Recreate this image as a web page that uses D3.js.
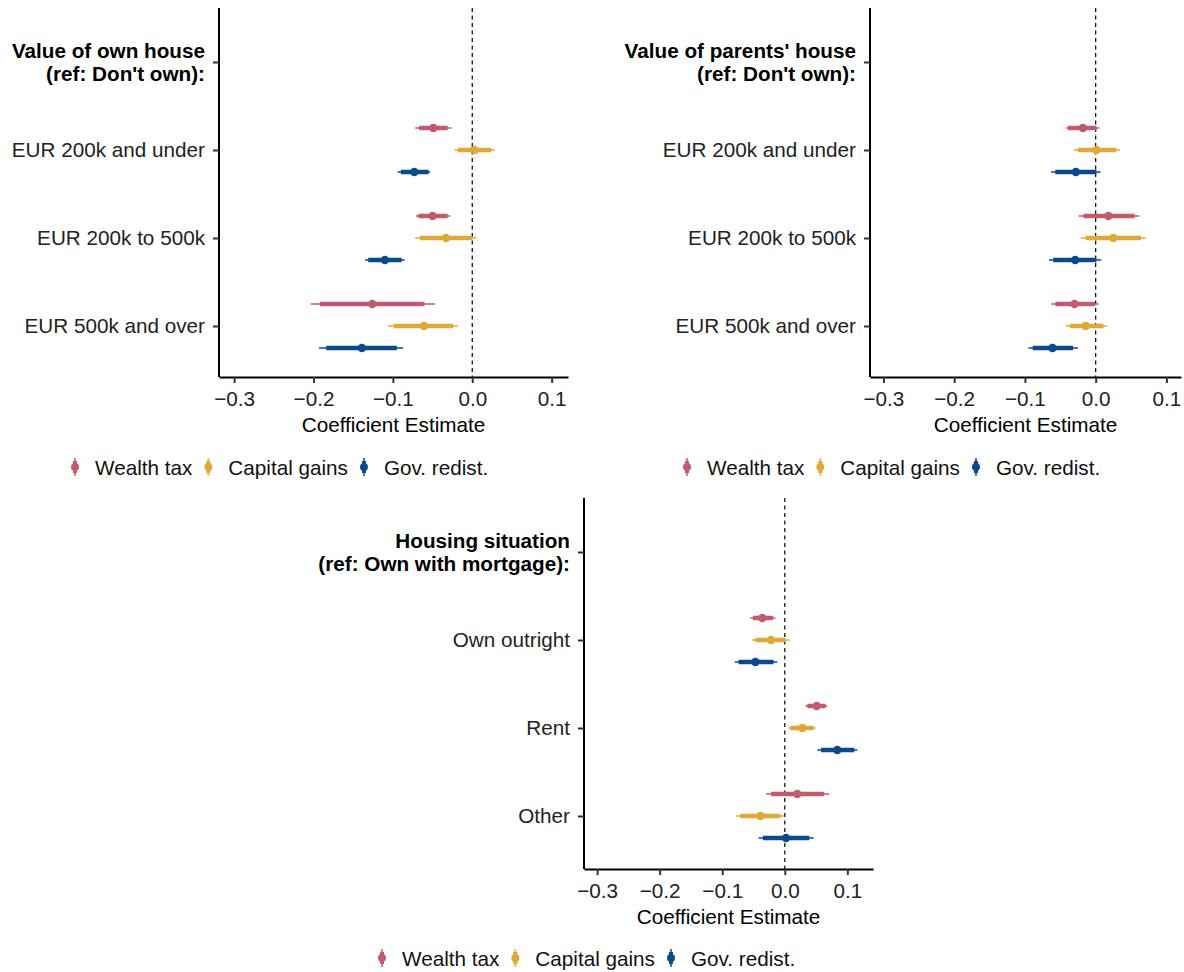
<!DOCTYPE html>
<html>
<head>
<meta charset="utf-8">
<script src="https://cdn.jsdelivr.net/npm/d3@7"></script>
<style>
  body { margin: 0; background: #fff; }
  text { font-family: "Liberation Sans", Arial, sans-serif; }
</style>
</head>
<body>
<svg id="chart" width="1184" height="972"></svg>
<script>
// series + colours
const seriesNames = ['Wealth tax', 'Capital gains', 'Gov. redist.'];
const seriesColors = ['#c25b6b', '#e1a933', '#0a4a8c'];
const xTicks = [-0.3, -0.2, -0.1, 0.0, 0.1];

// panel 1: value of own house
const ownHeader = ['Value of own house', '(ref: Don\'t own):'];
const ownCats = ['EUR 200k and under', 'EUR 200k to 500k', 'EUR 500k and over'];
const ownEst  = [[-0.049, -0.050, -0.126], [0.003, -0.033, -0.061], [-0.073, -0.110, -0.139]];
const ownLo95 = [[-0.072, -0.071, -0.204], [-0.022, -0.072, -0.106], [-0.094, -0.135, -0.193]];
const ownHi95 = [[-0.026, -0.028, -0.047], [0.028, 0.005, -0.018], [-0.053, -0.085, -0.087]];
const ownLo90 = [[-0.067, -0.068, -0.192], [-0.018, -0.066, -0.099], [-0.090, -0.131, -0.184]];
const ownHi90 = [[-0.031, -0.031, -0.060], [0.024, 0.000, -0.024], [-0.055, -0.089, -0.095]];

// panel 2: value of parents' house
const parHeader = ['Value of parents\' house', '(ref: Don\'t own):'];
const parCats = ['EUR 200k and under', 'EUR 200k to 500k', 'EUR 500k and over'];
const parEst  = [[-0.018, 0.018, -0.030], [0.001, 0.025, -0.014], [-0.028, -0.029, -0.061]];
const parLo95 = [[-0.042, -0.024, -0.063], [-0.031, -0.021, -0.042], [-0.063, -0.066, -0.095]];
const parHi95 = [[0.005, 0.062, 0.004], [0.034, 0.071, 0.016], [0.007, 0.008, -0.025]];
const parLo90 = [[-0.039, -0.017, -0.057], [-0.025, -0.014, -0.036], [-0.057, -0.060, -0.089]];
const parHi90 = [[0.001, 0.055, -0.001], [0.029, 0.064, 0.011], [0.001, 0.001, -0.032]];

// panel 3: housing situation
const houHeader = ['Housing situation', '(ref: Own with mortgage):'];
const houCats = ['Own outright', 'Rent', 'Other'];
const houEst  = [[-0.036, 0.051, 0.020], [-0.022, 0.028, -0.039], [-0.047, 0.084, 0.002]];
const houLo95 = [[-0.055, 0.033, -0.030], [-0.052, 0.006, -0.078], [-0.080, 0.052, -0.042]];
const houHi95 = [[-0.015, 0.068, 0.071], [0.008, 0.049, -0.002], [-0.012, 0.116, 0.046]];
const houLo90 = [[-0.051, 0.036, -0.022], [-0.047, 0.009, -0.071], [-0.074, 0.058, -0.035]];
const houHi90 = [[-0.019, 0.065, 0.063], [0.001, 0.046, -0.007], [-0.018, 0.111, 0.039]];

const FS = 20.7;
const svg = d3.select('#chart');

function drawPanel(cfg) {
  const g = svg.append('g');
  const x = d3.scaleLinear().domain(cfg.domain).range([cfg.left, cfg.right]);
  const y = d3.scalePoint().domain(['__header', ...cfg.cats])
    .range([cfg.top + 54, cfg.top + 54 + 88 * cfg.cats.length]);
  const dodge = d3.scalePoint().domain(seriesNames).range([-22, 22]);

  // zero line
  g.append('line')
    .attr('x1', x(0)).attr('x2', x(0))
    .attr('y1', cfg.top).attr('y2', cfg.bottom)
    .attr('stroke', '#000').attr('stroke-width', 1.2)
    .attr('stroke-dasharray', '4,3.5');

  // marks
  const rows = [];
  seriesNames.forEach((s, si) => {
    cfg.cats.forEach((c, ci) => {
      rows.push({ s, si, c,
        est: cfg.est[si][ci], lo95: cfg.lo95[si][ci], hi95: cfg.hi95[si][ci],
        lo90: cfg.lo90[si][ci], hi90: cfg.hi90[si][ci] });
    });
  });
  const mark = g.selectAll('g.mark').data(rows).enter().append('g').attr('class', 'mark')
    .attr('transform', d => `translate(0, ${y(d.c) + dodge(d.s)})`);
  mark.append('line')
    .attr('x1', d => x(d.lo95)).attr('x2', d => x(d.hi95))
    .attr('stroke', d => seriesColors[d.si]).attr('stroke-width', 2).attr('opacity', 0.75);
  mark.append('line')
    .attr('x1', d => x(d.lo90)).attr('x2', d => x(d.hi90))
    .attr('stroke', d => seriesColors[d.si]).attr('stroke-width', 4.5);
  mark.append('circle')
    .attr('cx', d => x(d.est)).attr('r', 4.2)
    .attr('fill', d => seriesColors[d.si]);

  // x axis
  const xa = g.append('g').attr('transform', `translate(0, ${cfg.bottom})`)
    .call(d3.axisBottom(x).tickValues(xTicks).tickFormat(d3.format('.1f'))
      .tickSize(6).tickPadding(8).tickSizeOuter(0));
  xa.select('.domain').attr('stroke', '#000').attr('stroke-width', 2);
  xa.selectAll('.tick line').attr('stroke', '#333').attr('stroke-width', 2);
  xa.selectAll('.tick text').attr('font-size', FS).attr('fill', '#222')
    .attr('font-family', '"Liberation Sans", Arial, sans-serif');

  // y axis
  const ya = g.append('g').attr('transform', `translate(${cfg.left}, 0)`)
    .call(d3.axisLeft(y).tickFormat(d => d === '__header' ? '' : d)
      .tickSize(6).tickPadding(8).tickSizeOuter(0));
  ya.select('.domain').attr('d', `M0,${cfg.top}V${cfg.bottom}`)
    .attr('stroke', '#000').attr('stroke-width', 2);
  ya.selectAll('.tick line').attr('stroke', '#333').attr('stroke-width', 2);
  ya.selectAll('.tick text').attr('font-size', FS).attr('fill', '#222')
    .attr('font-family', '"Liberation Sans", Arial, sans-serif');

  // bold header label
  const hy = y('__header');
  g.append('text')
    .attr('x', cfg.left - 14).attr('y', hy)
    .attr('text-anchor', 'end').attr('font-size', FS).attr('font-weight', 'bold')
    .selectAll('tspan').data(cfg.header).enter().append('tspan')
    .attr('x', cfg.left - 14)
    .attr('y', (d, i) => hy - 4.5 + i * 23)
    .text(d => d);

  // axis title
  g.append('text')
    .attr('x', (cfg.left + cfg.right) / 2).attr('y', cfg.bottom + 55)
    .attr('text-anchor', 'middle').attr('font-size', FS).attr('fill', '#000')
    .text('Coefficient Estimate');

  // legend
  const lg = g.append('g').attr('transform', `translate(${cfg.legendX}, ${cfg.legendY})`);
  let cx = 0;
  seriesNames.forEach((s, i) => {
    const k = lg.append('g').attr('transform', `translate(${cx}, 0)`);
    k.append('line').attr('y1', -9).attr('y2', 9)
      .attr('stroke', seriesColors[i]).attr('stroke-width', 2).attr('opacity', 0.75);
    k.append('line').attr('y1', -6).attr('y2', 6)
      .attr('stroke', seriesColors[i]).attr('stroke-width', 4);
    k.append('circle').attr('r', 4).attr('fill', seriesColors[i]);
    const t = lg.append('text').attr('x', cx + 20).attr('y', 7.5)
      .attr('font-size', FS).attr('fill', '#111').text(s);
    cx += 20 + t.node().getComputedTextLength() + 16;
  });
}

drawPanel({ header: ownHeader, cats: ownCats, est: ownEst, lo95: ownLo95, hi95: ownHi95,
  lo90: ownLo90, hi90: ownHi90, domain: [-0.319, 0.1206],
  left: 219, right: 568, top: 8, bottom: 377, legendX: 75, legendY: 467 });

drawPanel({ header: parHeader, cats: parCats, est: parEst, lo95: parLo95, hi95: parHi95,
  lo90: parLo90, hi90: parHi90, domain: [-0.319, 0.1206],
  left: 870, right: 1181, top: 8, bottom: 377, legendX: 687, legendY: 467 });

drawPanel({ header: houHeader, cats: houCats, est: houEst, lo95: houLo95, hi95: houHi95,
  lo90: houLo90, hi90: houHi90, domain: [-0.321, 0.141],
  left: 584, right: 873, top: 498, bottom: 869, legendX: 382, legendY: 958 });
</script>
</body>
</html>
